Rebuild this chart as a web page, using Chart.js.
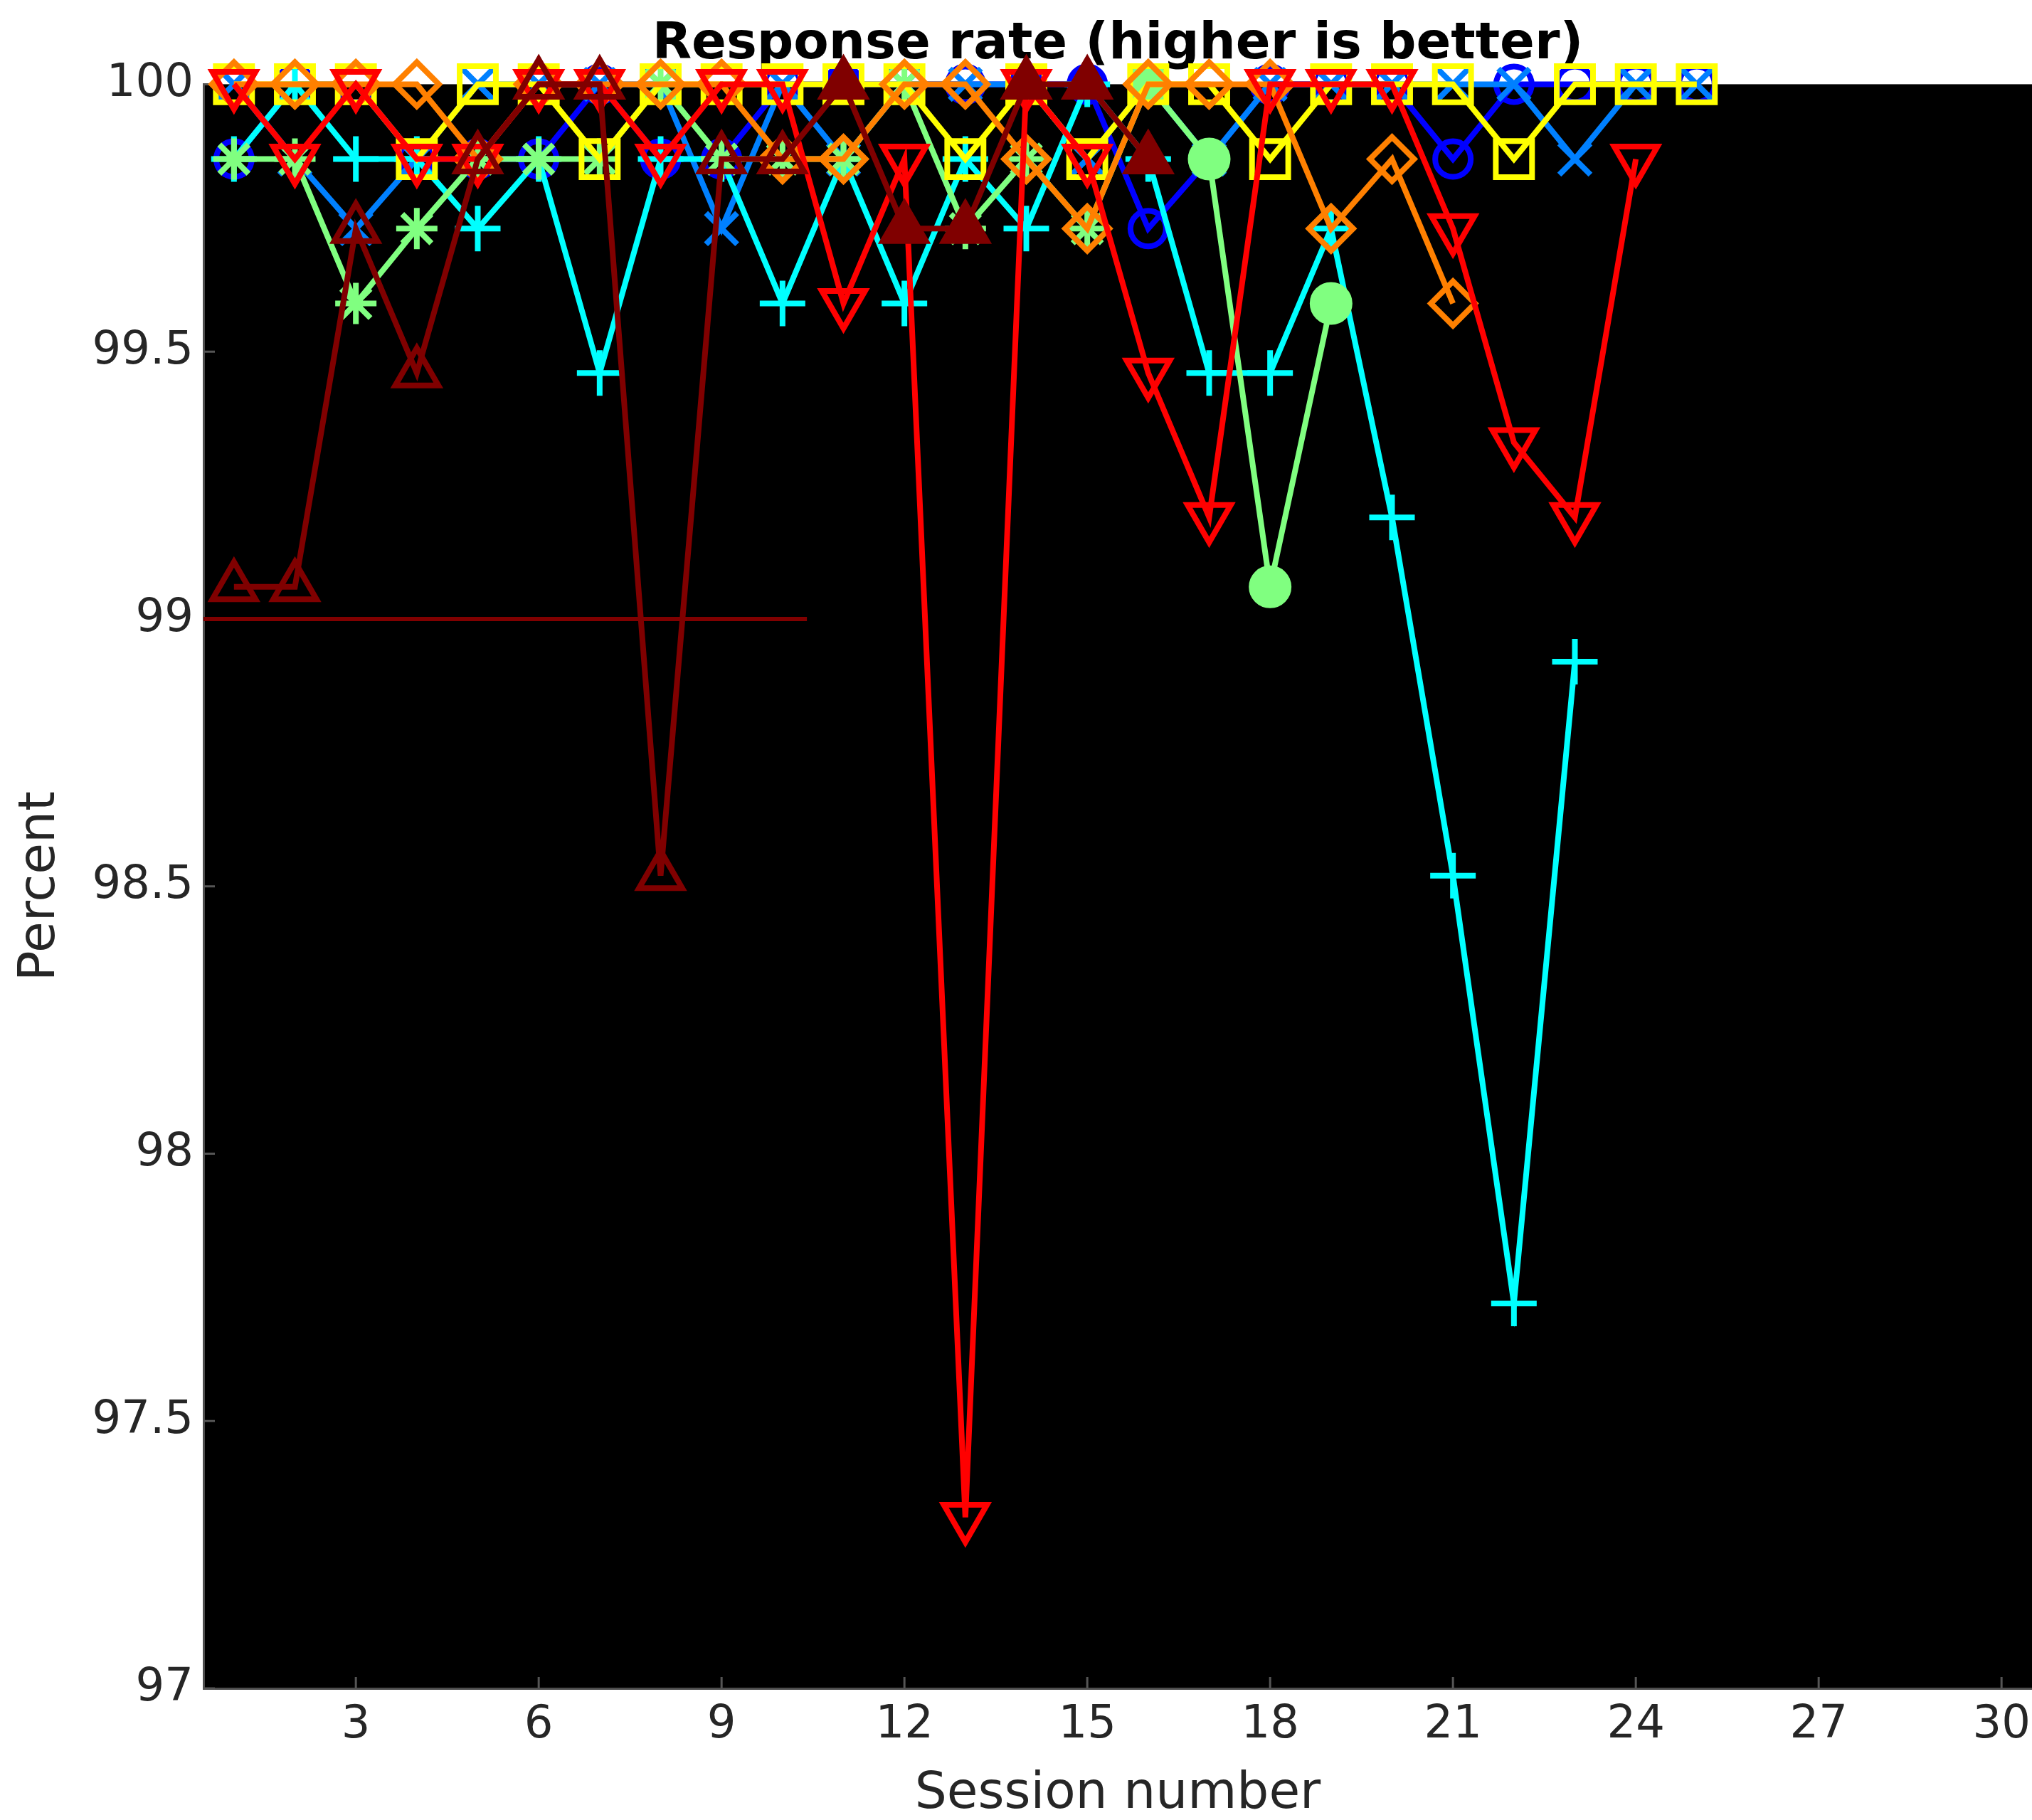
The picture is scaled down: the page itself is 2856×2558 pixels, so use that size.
<!DOCTYPE html>
<html>
<head>
<meta charset="utf-8">
<title>Response rate</title>
<script src="https://cdn.jsdelivr.net/npm/chart.js@4.4.1/dist/chart.umd.min.js"></script>
<style>
    html, body { margin: 0; padding: 0; background: #fff; }
    #responseChart { display: block; }
</style>
</head>
<body>
<canvas id="responseChart" width="2856" height="2558"></canvas>
<script>
// session numbers on the x axis
const sessions = [1, 2, 3, 4, 5, 6, 7, 8, 9, 10, 11, 12, 13, 14, 15, 16, 17, 18, 19, 20, 21, 22, 23, 24, 25];
const xTicks = [3, 6, 9, 12, 15, 18, 21, 24, 27, 30];
const yTicks = [97, 97.5, 98, 98.5, 99, 99.5, 100];

// response rate per session, one array per line
const blueCircle    = [99.86, 100, 100, 99.86, 99.86, 99.86, 100, 99.86, 99.86, 100, 100, 100, 100, 100, 100, 99.73, 99.86, 100, 100, 100, 99.86, 100, 100, 100, 100];
const azureCross    = [100, 99.86, 99.73, 99.86, 100, 100, 100, 100, 99.73, 100, 99.86, 100, 100, 100, 99.86, 100, 99.86, 100, 100, 100, 100, 100, 99.86, 100, 100];
const cyanPlus      = [99.86, 100, 99.86, 99.86, 99.73, 99.86, 99.46, 99.86, 99.86, 99.59, 99.86, 99.59, 99.86, 99.73, 100, 99.86, 99.46, 99.46, 99.73, 99.19, 98.52, 97.72, 98.92];
const greenStar     = [99.86, 99.86, 99.59, 99.73, 99.86, 99.86, 99.86, 100, 99.86, 99.86, 99.86, 100, 99.73, 99.86, 99.73, 100, 99.86, 99.06, 99.59];
const yellowSquare  = [100, 100, 100, 99.86, 100, 100, 99.86, 100, 100, 100, 100, 100, 99.86, 100, 99.86, 100, 100, 99.86, 100, 100, 100, 99.86, 100, 100, 100];
const orangeDiamond = [100, 100, 100, 100, 99.86, 100, 100, 100, 100, 99.86, 99.86, 100, 100, 99.86, 99.73, 100, 100, 100, 99.73, 99.86, 99.59];
const redTriangle   = [100, 99.86, 100, 99.86, 99.86, 100, 100, 99.86, 100, 100, 99.59, 99.86, 97.32, 100, 99.86, 99.46, 99.19, 100, 100, 100, 99.73, 99.33, 99.19, 99.86];
const darkRedTri    = [99.06, 99.06, 99.73, 99.46, 99.86, 100, 100, 98.52, 99.86, 99.86, 100, 99.73, 99.73, 100, 100, 99.86];

// threshold line drawn in the first half
const refLineX = [0.5, 10.4];
const refLineY = [99, 99];

const FONT = 'DejaVu Sans';
const NONE = 'rgba(0,0,0,0)';

function series(label, values, color, style, radius, extra) {
    return Object.assign({
        label: label,
        data: values.map((v, i) => ({ x: sessions[i], y: v })),
        borderColor: color,
        backgroundColor: color,
        borderWidth: 8,
        pointStyle: style,
        pointRadius: radius,
        pointBorderColor: color,
        pointBackgroundColor: NONE,
        pointBorderWidth: 8,
        tension: 0,
        clip: false
    }, extra || {});
}

const greenColor = 'rgb(128,255,128)';
const darkRed = 'rgb(128,0,0)';

let datasets = [
    series('1', blueCircle, 'rgb(0,0,255)', 'circle', 25),
    series('2', azureCross, 'rgb(0,128,255)', 'crossRot', 31),
    series('3', cyanPlus, 'rgb(0,255,255)', 'cross', 32),
    series('4', greenStar, greenColor, 'star', 29, {
        pointStyle: greenStar.map((v, i) => i < 15 ? 'star' : 'circle'),
        pointRadius: greenStar.map((v, i) => i < 15 ? 29 : 26),
        pointBackgroundColor: greenStar.map((v, i) => i < 15 ? NONE : greenColor)
    }),
    series('5', yellowSquare, 'rgb(255,255,0)', 'rect', 36),
    series('6', orangeDiamond, 'rgb(255,128,0)', 'rectRot', 31),
    series('7', redTriangle, 'rgb(255,0,0)', 'triangle', 35, { pointRotation: 180 }),
    series('8', darkRedTri, darkRed, 'triangle', 35, {
        pointBackgroundColor: darkRedTri.map((v, i) => i < 10 ? NONE : darkRed)
    }),
    {
        label: 'ref',
        data: refLineX.map((x, i) => ({ x: x, y: refLineY[i] })),
        borderColor: darkRed,
        borderWidth: 6,
        pointRadius: 0,
        clip: false
    }
];
// later lines are painted on top, chart.js paints the first one last
datasets = datasets.reverse();

const plotBackground = {
    id: 'plotBackground',
    beforeDraw(chart) {
        const a = chart.chartArea;
        chart.ctx.save();
        chart.ctx.fillStyle = '#000';
        chart.ctx.fillRect(a.left, a.top, a.right - a.left, a.bottom - a.top);
        chart.ctx.restore();
    }
};

// small tick marks pointing into the plot
const innerTicks = {
    id: 'innerTicks',
    beforeDatasetsDraw(chart) {
        const ctx = chart.ctx;
        const a = chart.chartArea;
        const xs = chart.scales.x, ys = chart.scales.y;
        ctx.save();
        ctx.strokeStyle = '#555';
        ctx.lineWidth = 3;
        ctx.beginPath();
        xTicks.forEach(v => {
            const px = xs.getPixelForValue(v);
            ctx.moveTo(px, a.bottom);
            ctx.lineTo(px, a.bottom - 16);
        });
        yTicks.forEach(v => {
            const py = ys.getPixelForValue(v);
            ctx.moveTo(a.left, py);
            ctx.lineTo(a.left + 16, py);
        });
        ctx.stroke();
        ctx.restore();
    }
};

new Chart(document.getElementById('responseChart'), {
    type: 'line',
    data: { datasets: datasets },
    options: {
        responsive: false,
        animation: false,
        devicePixelRatio: 1,
        events: [],
        layout: { padding: 0, autoPadding: false },
        plugins: {
            legend: { display: false },
            tooltip: { enabled: false },
            title: {
                display: true,
                fullSize: false,
                text: 'Response rate (higher is better)',
                color: '#000',
                font: { family: FONT, size: 72, weight: 'bold', lineHeight: 1.2 },
                padding: { top: 20, bottom: 12 }
            }
        },
        scales: {
            x: {
                type: 'linear',
                min: 0.5,
                max: 30.5,
                afterBuildTicks: s => { s.ticks = xTicks.map(v => ({ value: v })); },
                afterFit: s => { s.height = 185; s.paddingRight = 0; s.paddingLeft = 0; },
                grid: { display: false, drawTicks: false },
                border: { display: true, color: '#4d4d4d', width: 3 },
                ticks: {
                    color: '#262626',
                    padding: 14,
                    maxRotation: 0,
                    font: { family: FONT, size: 64 }
                },
                title: {
                    display: true,
                    text: 'Session number',
                    color: '#262626',
                    font: { family: FONT, size: 71, lineHeight: 1 },
                    padding: { top: 0, bottom: 0 }
                }
            },
            y: {
                type: 'linear',
                min: 97,
                max: 100,
                afterBuildTicks: s => { s.ticks = yTicks.map(v => ({ value: v })); },
                afterFit: s => { s.width = 286; },
                grid: { display: false, drawTicks: false },
                border: { display: true, color: '#4d4d4d', width: 3 },
                ticks: {
                    color: '#262626',
                    padding: 14,
                    font: { family: FONT, size: 64 },
                    callback: v => String(v)
                },
                title: {
                    display: true,
                    text: 'Percent',
                    color: '#262626',
                    font: { family: FONT, size: 71, lineHeight: 1 },
                    padding: { top: 22, bottom: 0 }
                }
            }
        }
    },
    plugins: [plotBackground, innerTicks]
});
</script>
</body>
</html>
